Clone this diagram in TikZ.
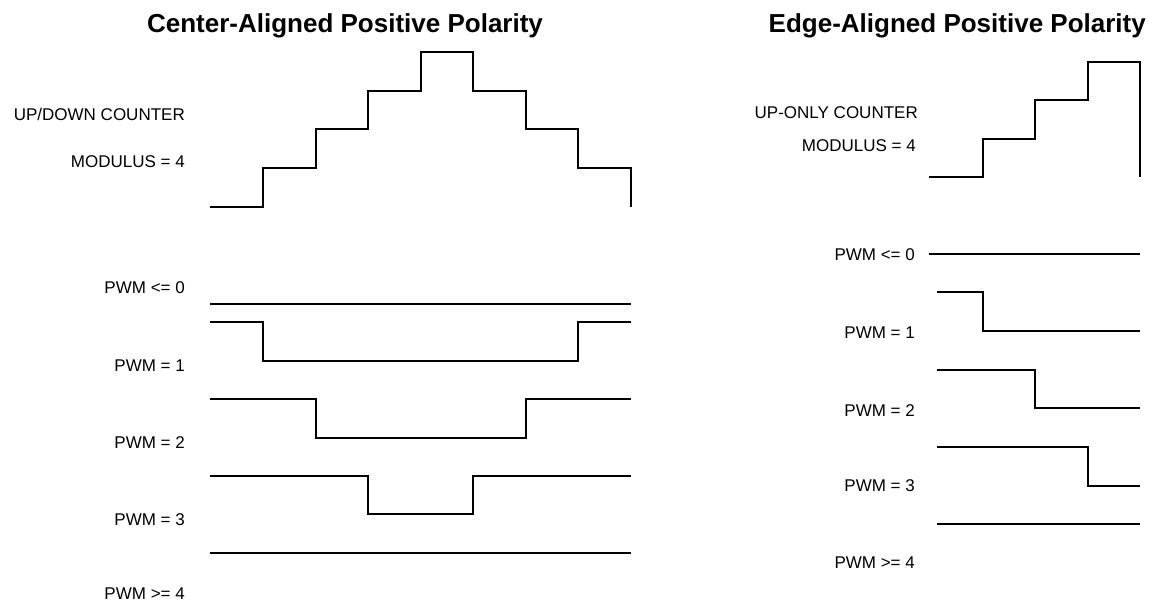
\documentclass[tikz,border=0pt]{standalone}
\usepackage{fontspec}
\setmainfont{Liberation Sans}
\begin{document}
\begin{tikzpicture}[x=1pt,y=-1pt,
  wave/.style={line width=2pt, line join=miter},
  lbl/.style={anchor=base east, inner sep=0pt, font=\fontsize{17}{20}\selectfont},
  ttl/.style={anchor=base, inner sep=0pt, font=\fontsize{26}{30}\selectfont\bfseries}]
\useasboundingbox (0,0) rectangle (1149,604);
% titles
\node[ttl] (t1) at (345,33) {Center-Aligned Positive Polarity};
\node[ttl, anchor=base east] (t2) at (1146,33) {Edge-Aligned Positive Polarity};
% left labels
\node[lbl] (l1) at (185,121) {UP/DOWN COUNTER};
\node[lbl] (l2) at (185,168) {MODULUS = 4};
\node[lbl] (l3) at (185,294) {PWM <= 0};
\node[lbl] (l4) at (185,371) {PWM = 1};
\node[lbl] (l5) at (185,448) {PWM = 2};
\node[lbl] (l6) at (185,525) {PWM = 3};
\node[lbl] (l7) at (185,599) {PWM >= 4};
% right labels
\node[lbl] (r1) at (918,119) {UP-ONLY COUNTER};
\node[lbl] (r2) at (916,152) {MODULUS = 4};
\node[lbl] (r3) at (915,261) {PWM <= 0};
\node[lbl] (r4) at (915,338) {PWM = 1};
\node[lbl] (r5) at (915,416) {PWM = 2};
\node[lbl] (r6) at (915,491) {PWM = 3};
\node[lbl] (r7) at (915,568) {PWM >= 4};
% left waveforms
\draw[wave] (210,207) -- (263,207) -- (263,168) -- (316,168) -- (316,129) -- (368,129) -- (368,91) -- (421,91) -- (421,52) -- (473,52) -- (473,91) -- (526,91) -- (526,129) -- (578,129) -- (578,168) -- (631,168) -- (631,207);
\draw[wave] (210,304) -- (631,304);
\draw[wave] (210,322) -- (263,322) -- (263,361) -- (578,361) -- (578,322) -- (631,322);
\draw[wave] (210,399) -- (316,399) -- (316,438) -- (526,438) -- (526,399) -- (631,399);
\draw[wave] (210,476) -- (368,476) -- (368,514) -- (473,514) -- (473,476) -- (631,476);
\draw[wave] (210,553) -- (631,553);
% right waveforms
\draw[wave] (929,177) -- (983,177) -- (983,139) -- (1035,139) -- (1035,100) -- (1088,100) -- (1088,62) -- (1140,62) -- (1140,177);
\draw[wave] (929,254) -- (1140,254);
\draw[wave] (937,292) -- (983,292) -- (983,331) -- (1140,331);
\draw[wave] (937,370) -- (1035,370) -- (1035,408) -- (1140,408);
\draw[wave] (937,447) -- (1088,447) -- (1088,486) -- (1140,486);
\draw[wave] (937,524) -- (1140,524);
\end{tikzpicture}
\end{document}
